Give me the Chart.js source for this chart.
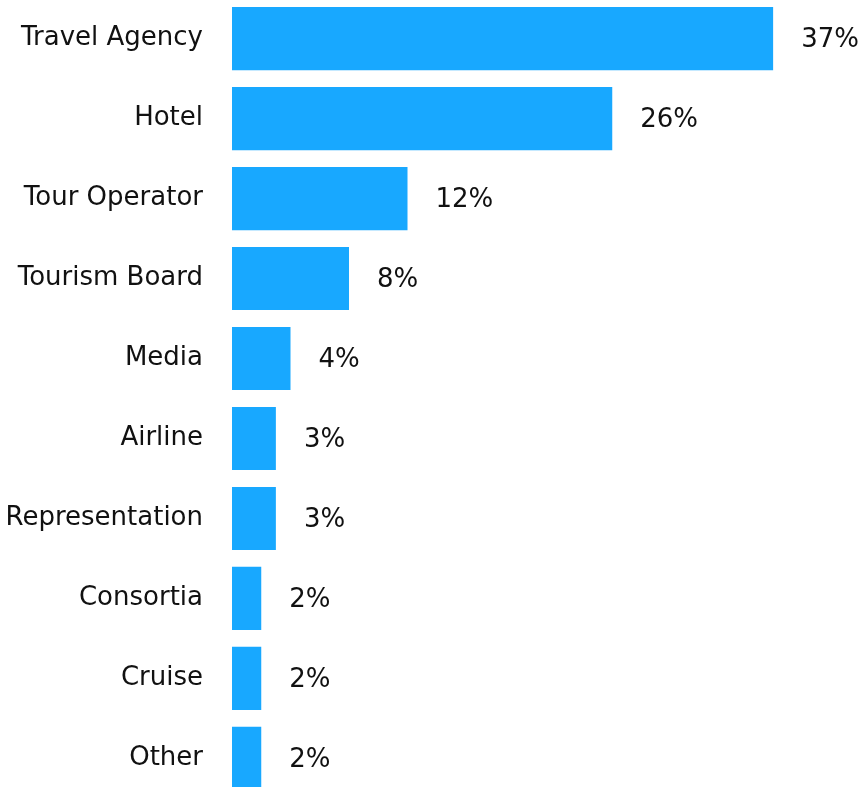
<!DOCTYPE html>
<html>
<head>
<meta charset="utf-8">
<script src="https://cdn.jsdelivr.net/npm/chart.js@4"></script>
<style>
    html, body { margin: 0; padding: 0; background: #fff; overflow: hidden; }
    /* 캔버스를 조금 크게 잡고 위로 당겨서 축 여백을 숨김 */
    .wrap { position: relative; width: 867px; height: 889px; margin-top: -46px; }
</style>
</head>
<body>
<div class="wrap"><canvas id="myChart"></canvas></div>
<script>
// 카테고리 / 비율(%)
const categories = [
    'Travel Agency', 'Hotel', 'Tour Operator', 'Tourism Board', 'Media',
    'Airline', 'Representation', 'Consortia', 'Cruise', 'Other'
];
const shares = [37, 26, 12, 8, 4, 3, 3, 2, 2, 2];

const FONT = "'DejaVu Sans', sans-serif";

// 막대 끝에 % 값 표시
const valueLabels = {
    id: 'valueLabels',
    afterDatasetsDraw(chart) {
        const { ctx } = chart;
        const meta = chart.getDatasetMeta(0);
        ctx.save();
        ctx.fillStyle = '#111';
        ctx.font = '26px ' + FONT;
        ctx.textBaseline = 'middle';
        ctx.textAlign = 'left';
        meta.data.forEach((bar, i) => {
            ctx.fillText(shares[i] + '%', bar.x + 28, bar.y + 2);
        });
        ctx.restore();
    }
};

const config = {
    type: 'bar',
    data: {
        labels: categories,
        datasets: [{
            data: shares,
            backgroundColor: '#18a8ff',
            borderWidth: 0,
            barPercentage: 0.79,
            categoryPercentage: 1,
        }],
    },
    options: {
        indexAxis: 'y',
        maintainAspectRatio: false,
        animation: false,
        layout: { padding: { top: 0, right: 50, bottom: 0, left: 0 } },
        plugins: {
            legend: false,
            tooltip: false,
        },
        scales: {
            x: {
                display: false,
                min: 0,
                max: 40,
            },
            y: {
                grid: { display: false, drawTicks: false },
                border: { display: false },
                afterFit(scale) {
                    scale.width = 232; // 라벨 영역 폭 고정
                },
                ticks: {
                    color: '#111',
                    padding: 29,
                    font: { family: FONT, size: 26 },
                },
            },
        },
    },
    plugins: [valueLabels],
};

new Chart(document.getElementById('myChart'), config);
</script>
</body>
</html>
